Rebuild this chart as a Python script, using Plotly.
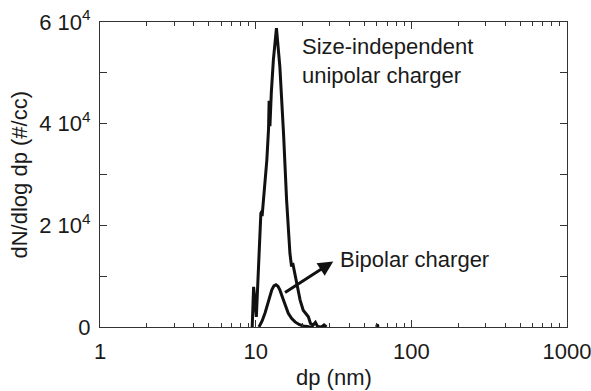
import numpy as np
import plotly.graph_objects as go

# Size-independent unipolar charger
uni_dp = [9.5, 9.7, 10.1, 10.8, 11.0, 11.0, 11.8, 12.1, 12.2, 12.35, 12.6, 13.0, 13.6,
          14.3, 15.1, 15.8, 16.6, 17.0, 17.3, 18.3, 19.3, 20.2, 21.0, 21.8, 22.5,
          23.4, 24.2, 25.0, 26.5, 27.5, 28.5]
uni_dn = [0, 7900, 2000, 22400, 22800, 21800, 32900, 39000, 44500, 39500, 46000, 52600, 58800,
          51200, 38100, 25000, 14500, 11900, 12600, 8600, 5300, 3300, 2500, 2000, 700,
          400, 900, 100, 0, 400, 0]
# isolated point far out
tail_dp = [60.5]
tail_dn = [250]

# Bipolar charger
bi_dp = [10.5, 11.0, 11.5, 11.8, 12.3, 12.7, 13.1, 13.5, 13.9, 14.3, 15.0, 15.6, 16.2,
         17.0, 17.9, 19.0, 20.2, 22.0, 23.5]
bi_dn = [0, 1200, 2800, 4000, 6000, 7300, 8100, 8300, 8000, 7300, 5500, 4000, 2700,
         1700, 1000, 500, 200, 50, 0]

x_ticks = [1, 10, 100, 1000]
x_ticktext = ["1", "10", "100", "1000"]
y_ticks = [0, 20000, 40000, 60000]
y_ticktext = ["0", "2 10<sup>4</sup>", "4 10<sup>4</sup>", "6 10<sup>4</sup>"]

FONT = "Arial, Liberation Sans, sans-serif"
FS = 22
LINE = "#111111"
AX = "#333333"

fig = go.Figure()
fig.add_trace(go.Scatter(x=uni_dp, y=uni_dn, mode="lines",
                         line=dict(color=LINE, width=3), showlegend=False))
fig.add_trace(go.Scatter(x=bi_dp, y=bi_dn, mode="lines",
                         line=dict(color=LINE, width=3), showlegend=False))
fig.add_trace(go.Scatter(x=tail_dp, y=tail_dn, mode="markers",
                         marker=dict(color=LINE, size=4), showlegend=False))

fig.update_layout(
    width=591, height=391,
    margin=dict(l=100, r=24, t=22, b=64, autoexpand=False),
    paper_bgcolor="white", plot_bgcolor="white",
    font=dict(family=FONT, size=FS, color="#1a1a1a"),
    xaxis=dict(type="log", range=[0, 3], tickmode="array", tickvals=x_ticks,
               ticktext=x_ticktext, ticks="inside", ticklen=7, tickcolor=AX,
               ticklabelstandoff=5, ticklabeloverflow="allow", automargin=False,
               showline=True, linecolor=AX, linewidth=1, mirror="ticks",
               showgrid=False, zeroline=False,
               minor=dict(ticks="inside", ticklen=4, tickcolor=AX, dtick="D1",
                          showgrid=False)),
    yaxis=dict(range=[0, 60000], tickmode="array", tickvals=y_ticks,
               ticktext=y_ticktext, ticks="inside", ticklen=7, tickcolor=AX,
               ticklabelstandoff=4, ticklabeloverflow="allow", automargin=False,
               showline=True, linecolor=AX, linewidth=1, mirror="ticks",
               showgrid=False, zeroline=False,
               minor=dict(ticks="inside", ticklen=7, tickcolor=AX, dtick=10000,
                          showgrid=False)),
)

fig.add_annotation(x=np.log10(31.5), y=12900, ax=np.log10(15.1), ay=6600,
                   xref="x", yref="y", axref="x", ayref="y",
                   showarrow=True, arrowhead=2, arrowsize=1, arrowwidth=3,
                   arrowcolor=LINE, text="")
fig.add_annotation(x=np.log10(33.8), y=13200, xref="x", yref="y",
                   text="Bipolar charger", showarrow=False,
                   xanchor="left", yanchor="middle")
fig.add_annotation(x=np.log10(19.3), y=52400, xref="x", yref="y",
                   text="Size-independent<br>unipolar charger", showarrow=False,
                   xanchor="left", yanchor="middle", align="left")
fig.add_annotation(x=-0.1734, y=0.5, xref="paper", yref="paper",
                   text="dN/dlog dp (#/cc)", textangle=-90, showarrow=False,
                   xanchor="center", yanchor="middle")
fig.add_annotation(x=0.5, y=-0.167, xref="paper", yref="paper",
                   text="dp (nm)", showarrow=False,
                   xanchor="center", yanchor="middle")

fig.write_html("out.html")
